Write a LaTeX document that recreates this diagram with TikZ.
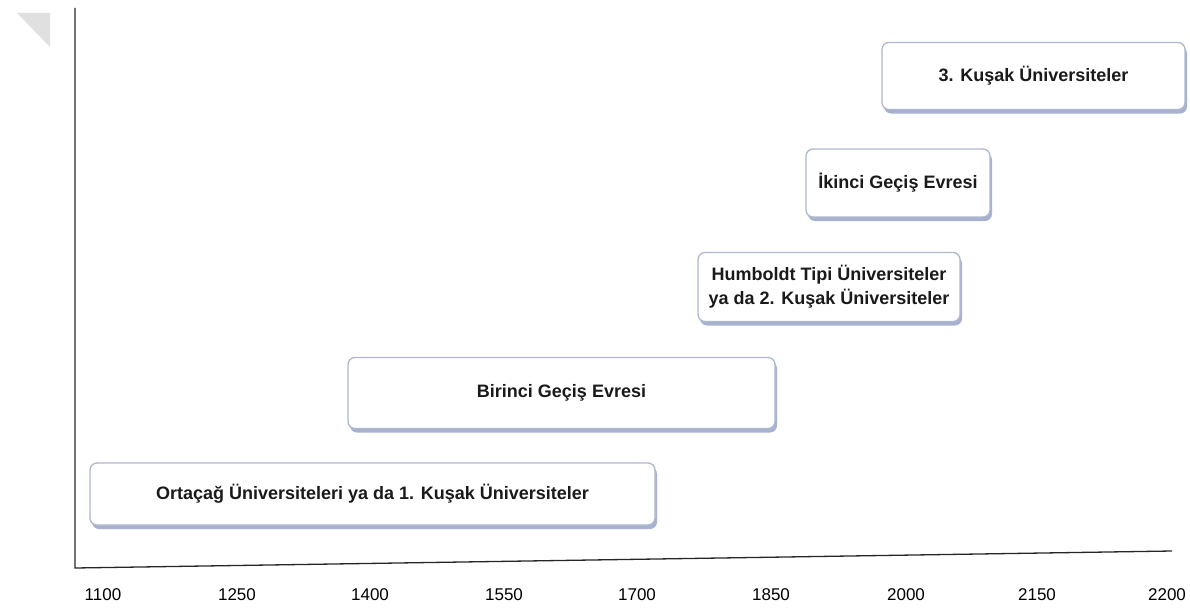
\documentclass[tikz,border=0pt]{standalone}
\usepackage{fontspec}
\setmainfont{Liberation Sans}
\usetikzlibrary{shadows}
\definecolor{boxline}{HTML}{AEB8CC}
\definecolor{boxshadow}{HTML}{98A4C8}
\definecolor{txt}{HTML}{1A1A1A}
\begin{document}
\begin{tikzpicture}[x=1pt,y=-1pt,
  era/.style={draw=boxline, line width=1.3pt, fill=white, rounded corners=7pt,
    inner sep=0pt, font=\fontsize{18}{24}\selectfont\bfseries, text=txt, align=center,
    drop shadow={shadow xshift=2pt, shadow yshift=-4pt, fill=boxshadow, opacity=0.85}},
  yr/.style={font=\fontsize{17}{20}\selectfont, text=black},
  axis/.style={line width=1.3pt, black!85}]
\useasboundingbox (0,0) rectangle (1190,610);
\fill[black!12] (17,13) -- (50,13) -- (50,47) -- cycle;
% axes
\coordinate (ytop) at (75,8);
\coordinate (orig) at (75,568);
\coordinate (xend) at (1172,551);
\draw[axis] (ytop) -- (orig) -- (xend);
% year labels
\node[yr] (y1100) at (103,595) {1100};
\node[yr] (y1250) at (237,595) {1250};
\node[yr] (y1400) at (370,595) {1400};
\node[yr] (y1550) at (504,595) {1550};
\node[yr] (y1700) at (637,595) {1700};
\node[yr] (y1850) at (771,595) {1850};
\node[yr] (y2000) at (906,595) {2000};
\node[yr] (y2150) at (1037,595) {2150};
\node[yr] (y2200) at (1167,595) {2200};
% eras
\node[era, minimum width=565pt, minimum height=62pt] (orta) at (372.5,494) {Ortaçağ Üniversiteleri ya da 1. Kuşak Üniversiteler};
\node[era, minimum width=427pt, minimum height=71pt] (bir) at (561.5,393) {Birinci Geçiş Evresi};
\node[era, minimum width=262pt, minimum height=69pt] (humb) at (829,287) {Humboldt Tipi Üniversiteler\\ya da 2. Kuşak Üniversiteler};
\node[era, minimum width=184pt, minimum height=68pt] (iki) at (898,183) {İkinci Geçiş Evresi};
\node[era, minimum width=303pt, minimum height=67pt] (uc) at (1033.5,76) {3. Kuşak Üniversiteler};
\end{tikzpicture}
\end{document}
